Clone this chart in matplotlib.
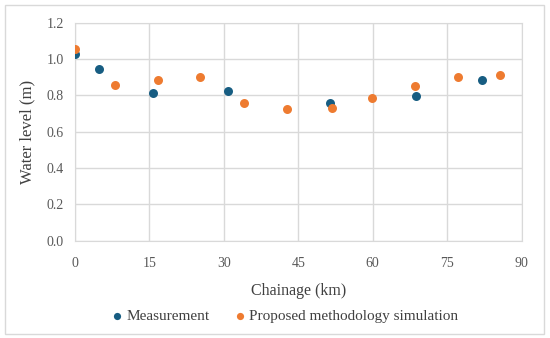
import matplotlib.pyplot as plt
from matplotlib.patches import Rectangle

# chainage (km) and water level (m)
meas_km = [0.0, 4.9, 15.8, 30.8, 51.4, 68.8, 82.1]
meas_wl = [1.027, 0.947, 0.811, 0.824, 0.756, 0.798, 0.886]

sim_km = [0.0, 8.1, 16.7, 25.3, 34.1, 42.7, 51.8, 59.9, 68.5, 77.1, 85.7]
sim_wl = [1.053, 0.855, 0.886, 0.899, 0.756, 0.725, 0.732, 0.787, 0.850, 0.899, 0.912]

x_ticks = [0, 15, 30, 45, 60, 75, 90]
y_ticks = [0.0, 0.2, 0.4, 0.6, 0.8, 1.0, 1.2]

plt.rcParams['font.family'] = ['Liberation Serif', 'DejaVu Serif']

fig = plt.figure(figsize=(5.5, 3.38), dpi=100)
ax = fig.add_axes([0.136, 0.288, 0.8125, 0.645])

grid_col = '#d9d9d9'
ax.scatter(meas_km, meas_wl, s=42, color='#175d82', label='Measurement', zorder=3, linewidths=0)
ax.scatter(sim_km, sim_wl, s=42, color='#ee7b30', label='Proposed methodology simulation', zorder=3, linewidths=0)

ax.set_xlim(0, 90)
ax.set_ylim(0, 1.2)
ax.set_xticks(x_ticks)
ax.set_yticks(y_ticks)
ax.set_yticklabels([f'{v:.1f}' for v in y_ticks])
ax.grid(True, color=grid_col, linewidth=1)
ax.set_axisbelow(True)
for s in ax.spines.values():
    s.set_color(grid_col)
ax.tick_params(length=0, labelsize=10, colors='#595959')
ax.tick_params(axis='x', pad=12)
ax.tick_params(axis='y', pad=8)

ax.set_xlabel('Chainage (km)', fontsize=11.5, color='#404040', labelpad=9)
ax.set_ylabel('Water level (m)', fontsize=12, color='#404040', labelpad=8)

leg = ax.legend(loc='upper center', bbox_to_anchor=(0.47, -0.25), ncol=2, frameon=False,
                fontsize=11, handletextpad=0.2, handlelength=0.8, columnspacing=1.6,
                markerscale=0.8)
for t in leg.get_texts():
    t.set_color('#404040')

fig.patches.append(Rectangle((5 / 550, 4 / 338), 539 / 550, 329 / 338, transform=fig.transFigure,
                             fill=False, edgecolor='#d9d9d9', linewidth=1))

fig.savefig('out.png', dpi=100)
